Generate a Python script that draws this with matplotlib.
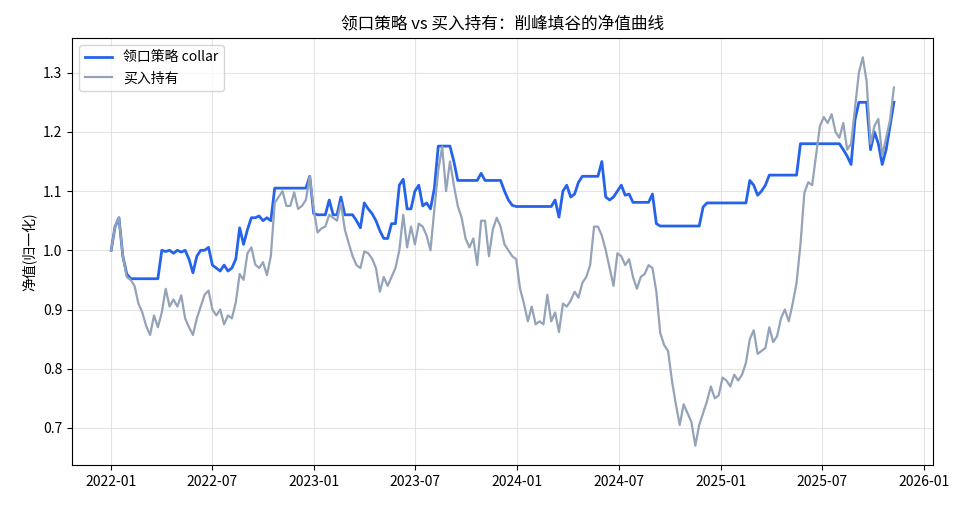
import numpy as np
import pandas as pd
import matplotlib
matplotlib.use('Agg')
import matplotlib.pyplot as plt
import matplotlib.dates as mdates

plt.rcParams['font.family'] = ['Noto Sans CJK SC', 'DejaVu Sans']
plt.rcParams['axes.unicode_minus'] = False

# weekly closes (normalised to 1.0 at start)
start_date = '2022-01-01'
n_weeks = 202

buy_hold = [
    1.0, 1.04, 1.055, 0.99, 0.955, 0.95, 0.94, 0.91, 0.895, 0.872,
    0.857, 0.89, 0.87, 0.895, 0.935, 0.905, 0.917, 0.905, 0.924, 0.885,
    0.87, 0.857, 0.885, 0.905, 0.925, 0.932, 0.9, 0.89, 0.9, 0.875,
    0.89, 0.885, 0.912, 0.96, 0.95, 0.995, 1.005, 0.976, 0.97, 0.98,
    0.958, 0.99, 1.08, 1.09, 1.1, 1.075, 1.075, 1.098, 1.07, 1.075,
    1.085, 1.125, 1.07, 1.03, 1.037, 1.04, 1.06, 1.055, 1.05, 1.08,
    1.035, 1.012, 0.99, 0.975, 0.97, 0.998, 0.995, 0.986, 0.97, 0.93,
    0.955, 0.94, 0.955, 0.97, 1.0, 1.06, 1.005, 1.04, 1.01, 1.045,
    1.04, 1.025, 1.0, 1.07, 1.135, 1.175, 1.1, 1.15, 1.11, 1.075,
    1.055, 1.02, 1.005, 1.02, 0.975, 1.05, 1.05, 0.99, 1.035, 1.055,
    1.04, 1.01, 1.0, 0.99, 0.985, 0.935, 0.91, 0.88, 0.905, 0.875,
    0.88, 0.875, 0.925, 0.88, 0.895, 0.862, 0.91, 0.905, 0.915, 0.93,
    0.92, 0.945, 0.955, 0.975, 1.04, 1.04, 1.025, 1.0, 0.97, 0.94,
    0.995, 0.99, 0.975, 0.985, 0.955, 0.935, 0.955, 0.96, 0.975, 0.97,
    0.93, 0.86, 0.84, 0.83, 0.78, 0.74, 0.705, 0.74, 0.725, 0.71,
    0.67, 0.705, 0.725, 0.745, 0.77, 0.75, 0.755, 0.785, 0.78, 0.77,
    0.79, 0.78, 0.79, 0.81, 0.85, 0.865, 0.825, 0.83, 0.835, 0.87,
    0.845, 0.855, 0.885, 0.9, 0.88, 0.91, 0.945, 1.01, 1.097, 1.115,
    1.11, 1.16, 1.21, 1.225, 1.215, 1.23, 1.2, 1.19, 1.215, 1.17,
    1.18, 1.24, 1.3, 1.326, 1.285, 1.18, 1.21, 1.222, 1.16, 1.19,
    1.22, 1.275,
]

collar = [
    1.0, 1.04, 1.055, 0.99, 0.96, 0.952, 0.952, 0.952, 0.952, 0.952,
    0.952, 0.952, 0.952, 1.0, 0.998, 1.0, 0.995, 1.0, 0.997, 1.0,
    0.985, 0.962, 0.99, 1.0, 1.0, 1.005, 0.975, 0.97, 0.965, 0.975,
    0.965, 0.97, 0.985, 1.038, 1.01, 1.035, 1.055, 1.055, 1.058, 1.05,
    1.055, 1.05, 1.105, 1.105, 1.105, 1.105, 1.105, 1.105, 1.105, 1.105,
    1.105, 1.125, 1.062, 1.06, 1.06, 1.06, 1.085, 1.06, 1.06, 1.09,
    1.06, 1.06, 1.06, 1.05, 1.038, 1.08, 1.07, 1.062, 1.05, 1.033,
    1.02, 1.02, 1.045, 1.045, 1.11, 1.12, 1.07, 1.07, 1.1, 1.11,
    1.075, 1.08, 1.07, 1.105, 1.176, 1.176, 1.176, 1.176, 1.15, 1.118,
    1.118, 1.118, 1.118, 1.118, 1.118, 1.13, 1.118, 1.118, 1.118, 1.118,
    1.118, 1.1, 1.085, 1.076, 1.074, 1.074, 1.074, 1.074, 1.074, 1.074,
    1.074, 1.074, 1.074, 1.074, 1.085, 1.056, 1.1, 1.11, 1.09, 1.095,
    1.115, 1.125, 1.125, 1.125, 1.125, 1.125, 1.15, 1.09, 1.085, 1.09,
    1.1, 1.11, 1.093, 1.095, 1.081, 1.081, 1.081, 1.081, 1.081, 1.095,
    1.045, 1.041, 1.041, 1.041, 1.041, 1.041, 1.041, 1.041, 1.041, 1.041,
    1.041, 1.041, 1.073, 1.08, 1.08, 1.08, 1.08, 1.08, 1.08, 1.08,
    1.08, 1.08, 1.08, 1.08, 1.118, 1.11, 1.093, 1.1, 1.11, 1.127,
    1.127, 1.127, 1.127, 1.127, 1.127, 1.127, 1.127, 1.18, 1.18, 1.18,
    1.18, 1.18, 1.18, 1.18, 1.18, 1.18, 1.18, 1.18, 1.17, 1.159,
    1.145, 1.22, 1.25, 1.25, 1.25, 1.17, 1.2, 1.18, 1.145, 1.17,
    1.21, 1.25,
]

dates = pd.date_range(start_date, periods=n_weeks, freq='7D')

fig = plt.figure(figsize=(9.68, 5.05), dpi=100)
ax = fig.add_axes([0.0744, 0.079, 0.8895, 0.846])

ax.plot(dates, collar, color='#2563eb', lw=2.0, label='领口策略 collar')
ax.plot(dates, buy_hold, color='#94a3b8', lw=1.6, label='买入持有')

ax.set_title('领口策略 vs 买入持有：削峰填谷的净值曲线', fontsize=12)
ax.set_ylabel('净值(归一化)', fontsize=10)
ax.xaxis.set_major_locator(mdates.MonthLocator(bymonth=[1, 7]))
ax.xaxis.set_major_formatter(mdates.DateFormatter('%Y-%m'))
ax.tick_params(labelsize=10)
ax.grid(True, color='#dddddd', lw=0.8, alpha=0.8)
ax.legend(loc='upper left', fontsize=10)

fig.savefig('out.png', dpi=100)
